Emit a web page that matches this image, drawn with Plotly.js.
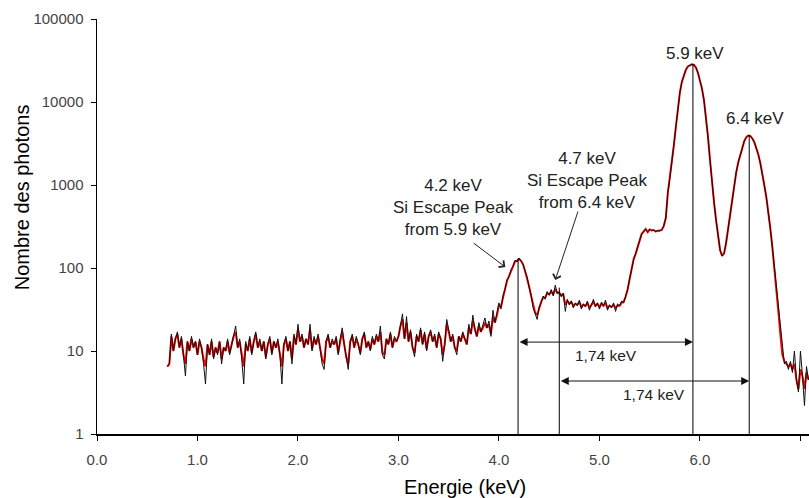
<!DOCTYPE html>
<html>
<head>
<meta charset="utf-8">
<script src="https://cdn.plot.ly/plotly-3.0.1.min.js"></script>
<style>html,body{margin:0;padding:0;background:#fff;}#chart{width:809px;height:498px;}</style>
</head>
<body>
<div id="chart"></div>
<script>
// Spectrum channels: first channel energy and channel width (keV)
const channelStart = 0.70;
const channelWidth = 0.02;

// Raw counts (black trace)
const countsBlack = [
  6.5,7,16,10,14,17,11,15,9,5,
  13,10,15,11,13,9,14,11,7,4,
  12,9,14,8,11,9,13,7,11,10,
  14,9,12,16,20,11,14,8,4,13,
  10,15,9,13,17,11,14,10,13,8,
  12,15,9,13,11,14,9,4,12,15,
  10,13,7,16,12,
  21,13,16,11,14,12,21,10,15,12,
  16,11,7,6,13,16,11,14,12,15,
  9,14,19,12,8,6,13,16,11,15,
  12,9,14,17,11,13,10,15,12,16,
  13,20,9,8,14,12,17,11,15,13,
  15,22,28,14,26,13,18,11,8.5,16,
  13,19,12,17,10,15,18,13,16,11,
  17,14,7.5,12,24,18,13,16,11,9,
  15,13,17,14,12,21,16,27,18,15,
  22,17,20,25,19,23,15,31,22,28,
  38,32,46,55,72,78,95,105,124,118,
  132,120,112,90,78,58,47,33,28,24,
  34,38,46,42,52,47,55,46,62,50,
  52,45,50,30,42,36,40,33,38,35,
  41,32,37,34,40,31,36,42,34,38,
  32,39,35,41,31,36,33,38,30,37,
  35,40,38,46,55,
  75,100,125,150,175,215,255,280,290,275,
  295,280,290,272,285,278,290,320,400,800,
  1200,1800,3000,5000,8500,13000,17500,21500,24500,26800,
  28000,28500,28000,26000,22500,18500,
  14500,10500,6500,3800,2000,1050,620,380,240,165,
  140,150,200,300,480,720,1000,1400,1850,2300,
  2850,3350,3750,3950,3900,3650,3300,2850,2350,1850,
  1400,1000,720,480,300,180,105,60,34,18,
  10,7,
  7.5,6,7.5,5.5,10,4.5,3.2,10,5,2.2,6.5,4.5
];

// Second (red) trace
const countsRed = [
  6.5,7,15,10,14,16,11,14,9,7,
  13,10,14,11,13,9,13,11,8,6.5,
  12,9,13,8.5,11,9.5,13,8,11,10,
  13,9.5,12,15,17,11,13,8.5,6.5,12,
  10,14,9.5,13,16,11,13,10,13,8.5,
  12,14,9.5,13,11,13,9.5,6.5,12,14,
  10,13,8,15,12,
  18,13,15,11,14,12,18,10.5,14,12,
  15,11,8,7,13,15,11,13,12,14,
  9.5,13,17,12,8.5,7,13,15,11,14,
  12,9.5,14,16,11,13,10.5,14,12,15,
  13,17,9.5,9,14,12,16,11,14,13,
  15,20,24,14,22,13,17,11,9.5,15,
  13,18,12,16,10.5,15,17,13,15,11,
  16,14,9,12,21,17,13,15,11,10,
  15,13,16,14,12,19,16,23,18,15,
  20,17,19,22,19,21,16,26,22,27,
  36,34,44,56,70,80,93,106,120,122,
  128,122,110,92,76,60,46,35,29,27,
  33,39,44,44,50,48,52,48,56,50,
  50,47,48,36,40,37,39,35,37,36,
  39,34,36,35,38,33,36,39,35,37,
  34,37,35,38,33,35,34,36,33,35,
  35,38,39,45,55,
  75,98,128,148,178,210,258,275,295,270,
  290,285,285,276,280,282,288,322,400,800,
  1200,1800,3000,5000,8500,13000,17500,21500,24500,26800,
  28000,28500,28000,26000,22500,18500,
  14500,10500,6500,3800,2000,1050,620,380,240,165,
  140,150,200,300,480,720,1000,1400,1850,2300,
  2850,3350,3750,3950,3900,3650,3300,2850,2350,1850,
  1400,1000,720,480,300,180,105,58,30,16,
  9,7.5,
  7,6.5,7,6,7,4.5,3.5,6,5,3.5,5.5,4.5
];

// Peak markers (vertical lines): energy and top count
const peakEnergy = [4.19, 4.60, 5.93, 6.49];
const peakTop = [130, 58, 28500, 3950];

// Distance arrows between peaks
const spanFrom = [4.19, 4.60];
const spanTo = [5.93, 6.49];
const spanLevel = [12.8, 4.35];
const spanLabel = ['1,74 keV', '1,74 keV'];

// Axis ticks
const xTickVals = [0, 1, 2, 3, 4, 5, 6, 7];
const xTickText = ['0.0', '1.0', '2.0', '3.0', '4.0', '5.0', '6.0', '7.0'];
const yTickVals = [1, 10, 100, 1000, 10000, 100000];
const yTickText = ['1', '10', '100', '1000', '10000', '100000'];

const energies = countsBlack.map((_, i) => +(channelStart + i * channelWidth).toFixed(2));

const lx = [], ly = [];
peakEnergy.forEach((e, i) => { lx.push(e, e, null); ly.push(1, peakTop[i], null); });

const font = 'Liberation Sans, Arial, sans-serif';
const L = Math.log10;

const traces = [
  {x: energies, y: countsRed, type: 'scatter', mode: 'lines',
   line: {color: '#ff0000', width: 2}, hoverinfo: 'skip'},
  {x: energies, y: countsBlack, type: 'scatter', mode: 'lines',
   line: {color: '#111111', width: 1}, hoverinfo: 'skip'},
  {x: lx, y: ly, type: 'scatter', mode: 'lines',
   line: {color: '#000000', width: 1}, hoverinfo: 'skip'}
];

const annFont = {family: font, size: 17, color: '#222'};
const annotations = [
  {x: 3.548, y: 2.735, xref: 'x', yref: 'y', text: '4.2 keV<br>Si Escape Peak<br>from 5.9 keV',
   showarrow: false, font: annFont, xanchor: 'center', yanchor: 'middle'},
  {x: 4.878, y: 3.05, xref: 'x', yref: 'y', text: '4.7 keV<br>Si Escape Peak<br>from 6.4 keV',
   showarrow: false, font: annFont, xanchor: 'center', yanchor: 'middle'},
  {x: 5.955, y: 4.59, xref: 'x', yref: 'y', text: '5.9 keV',
   showarrow: false, font: annFont, xanchor: 'center', yanchor: 'middle'},
  {x: 6.55, y: 3.807, xref: 'x', yref: 'y', text: '6.4 keV',
   showarrow: false, font: annFont, xanchor: 'center', yanchor: 'middle'},
  // callout arrows
  {x: 4.063, y: 2.012, ax: 3.734, ay: 2.313, xref: 'x', yref: 'y', axref: 'x', ayref: 'y',
   text: '', showarrow: true, arrowhead: 4, arrowsize: 1.6, arrowwidth: 1, arrowcolor: '#222', standoff: 0, startstandoff: 0},
  {x: 4.56, y: 1.855, ax: 4.791, ay: 2.699, xref: 'x', yref: 'y', axref: 'x', ayref: 'y',
   text: '', showarrow: true, arrowhead: 4, arrowsize: 1.6, arrowwidth: 1, arrowcolor: '#222', standoff: 0, startstandoff: 0},
  // axis titles
  {x: -0.105, y: 0.571, xref: 'paper', yref: 'paper', text: 'Nombre des photons', textangle: -90,
   showarrow: false, font: {family: font, size: 20, color: '#000'}, xanchor: 'center', yanchor: 'middle'},
  {x: 0.517, y: -0.128, xref: 'paper', yref: 'paper', text: 'Energie (keV)',
   showarrow: false, font: {family: font, size: 20, color: '#000'}, xanchor: 'center', yanchor: 'middle'}
];

spanFrom.forEach((a, i) => {
  annotations.push({x: spanTo[i], y: L(spanLevel[i]), ax: a, ay: L(spanLevel[i]),
    xref: 'x', yref: 'y', axref: 'x', ayref: 'y', text: '', showarrow: true,
    arrowside: 'end+start', arrowhead: 2, arrowsize: 1.6, arrowwidth: 1, arrowcolor: '#111',
    standoff: 0, startstandoff: 0});
  annotations.push({x: (a + spanTo[i]) / 2, y: L(spanLevel[i]), xref: 'x', yref: 'y',
    text: spanLabel[i], showarrow: false, font: {family: font, size: 15.5, color: '#222'},
    xanchor: 'center', yanchor: 'top', yshift: -3});
});

const axisCommon = {
  showline: true, linecolor: '#000', linewidth: 1.5, showgrid: false, zeroline: false,
  ticks: 'outside', ticklen: 5, tickwidth: 1, tickcolor: '#000',
  tickfont: {family: font, size: 15, color: '#444'}, fixedrange: true
};

const layout = {
  width: 809, height: 498,
  margin: {l: 97, r: 0, t: 19, b: 64},
  paper_bgcolor: '#fff', plot_bgcolor: '#fff',
  showlegend: false, hovermode: false,
  xaxis: Object.assign({}, axisCommon, {range: [0, 7.085], tickmode: 'array',
    tickvals: xTickVals, ticktext: xTickText, ticklabelstandoff: 6}),
  yaxis: Object.assign({}, axisCommon, {type: 'log', range: [0, 5], tickmode: 'array',
    tickvals: yTickVals, ticktext: yTickText, ticklabelstandoff: 4}),
  annotations: annotations
};

Plotly.newPlot('chart', traces, layout, {displayModeBar: false, staticPlot: true});
</script>
</body>
</html>
